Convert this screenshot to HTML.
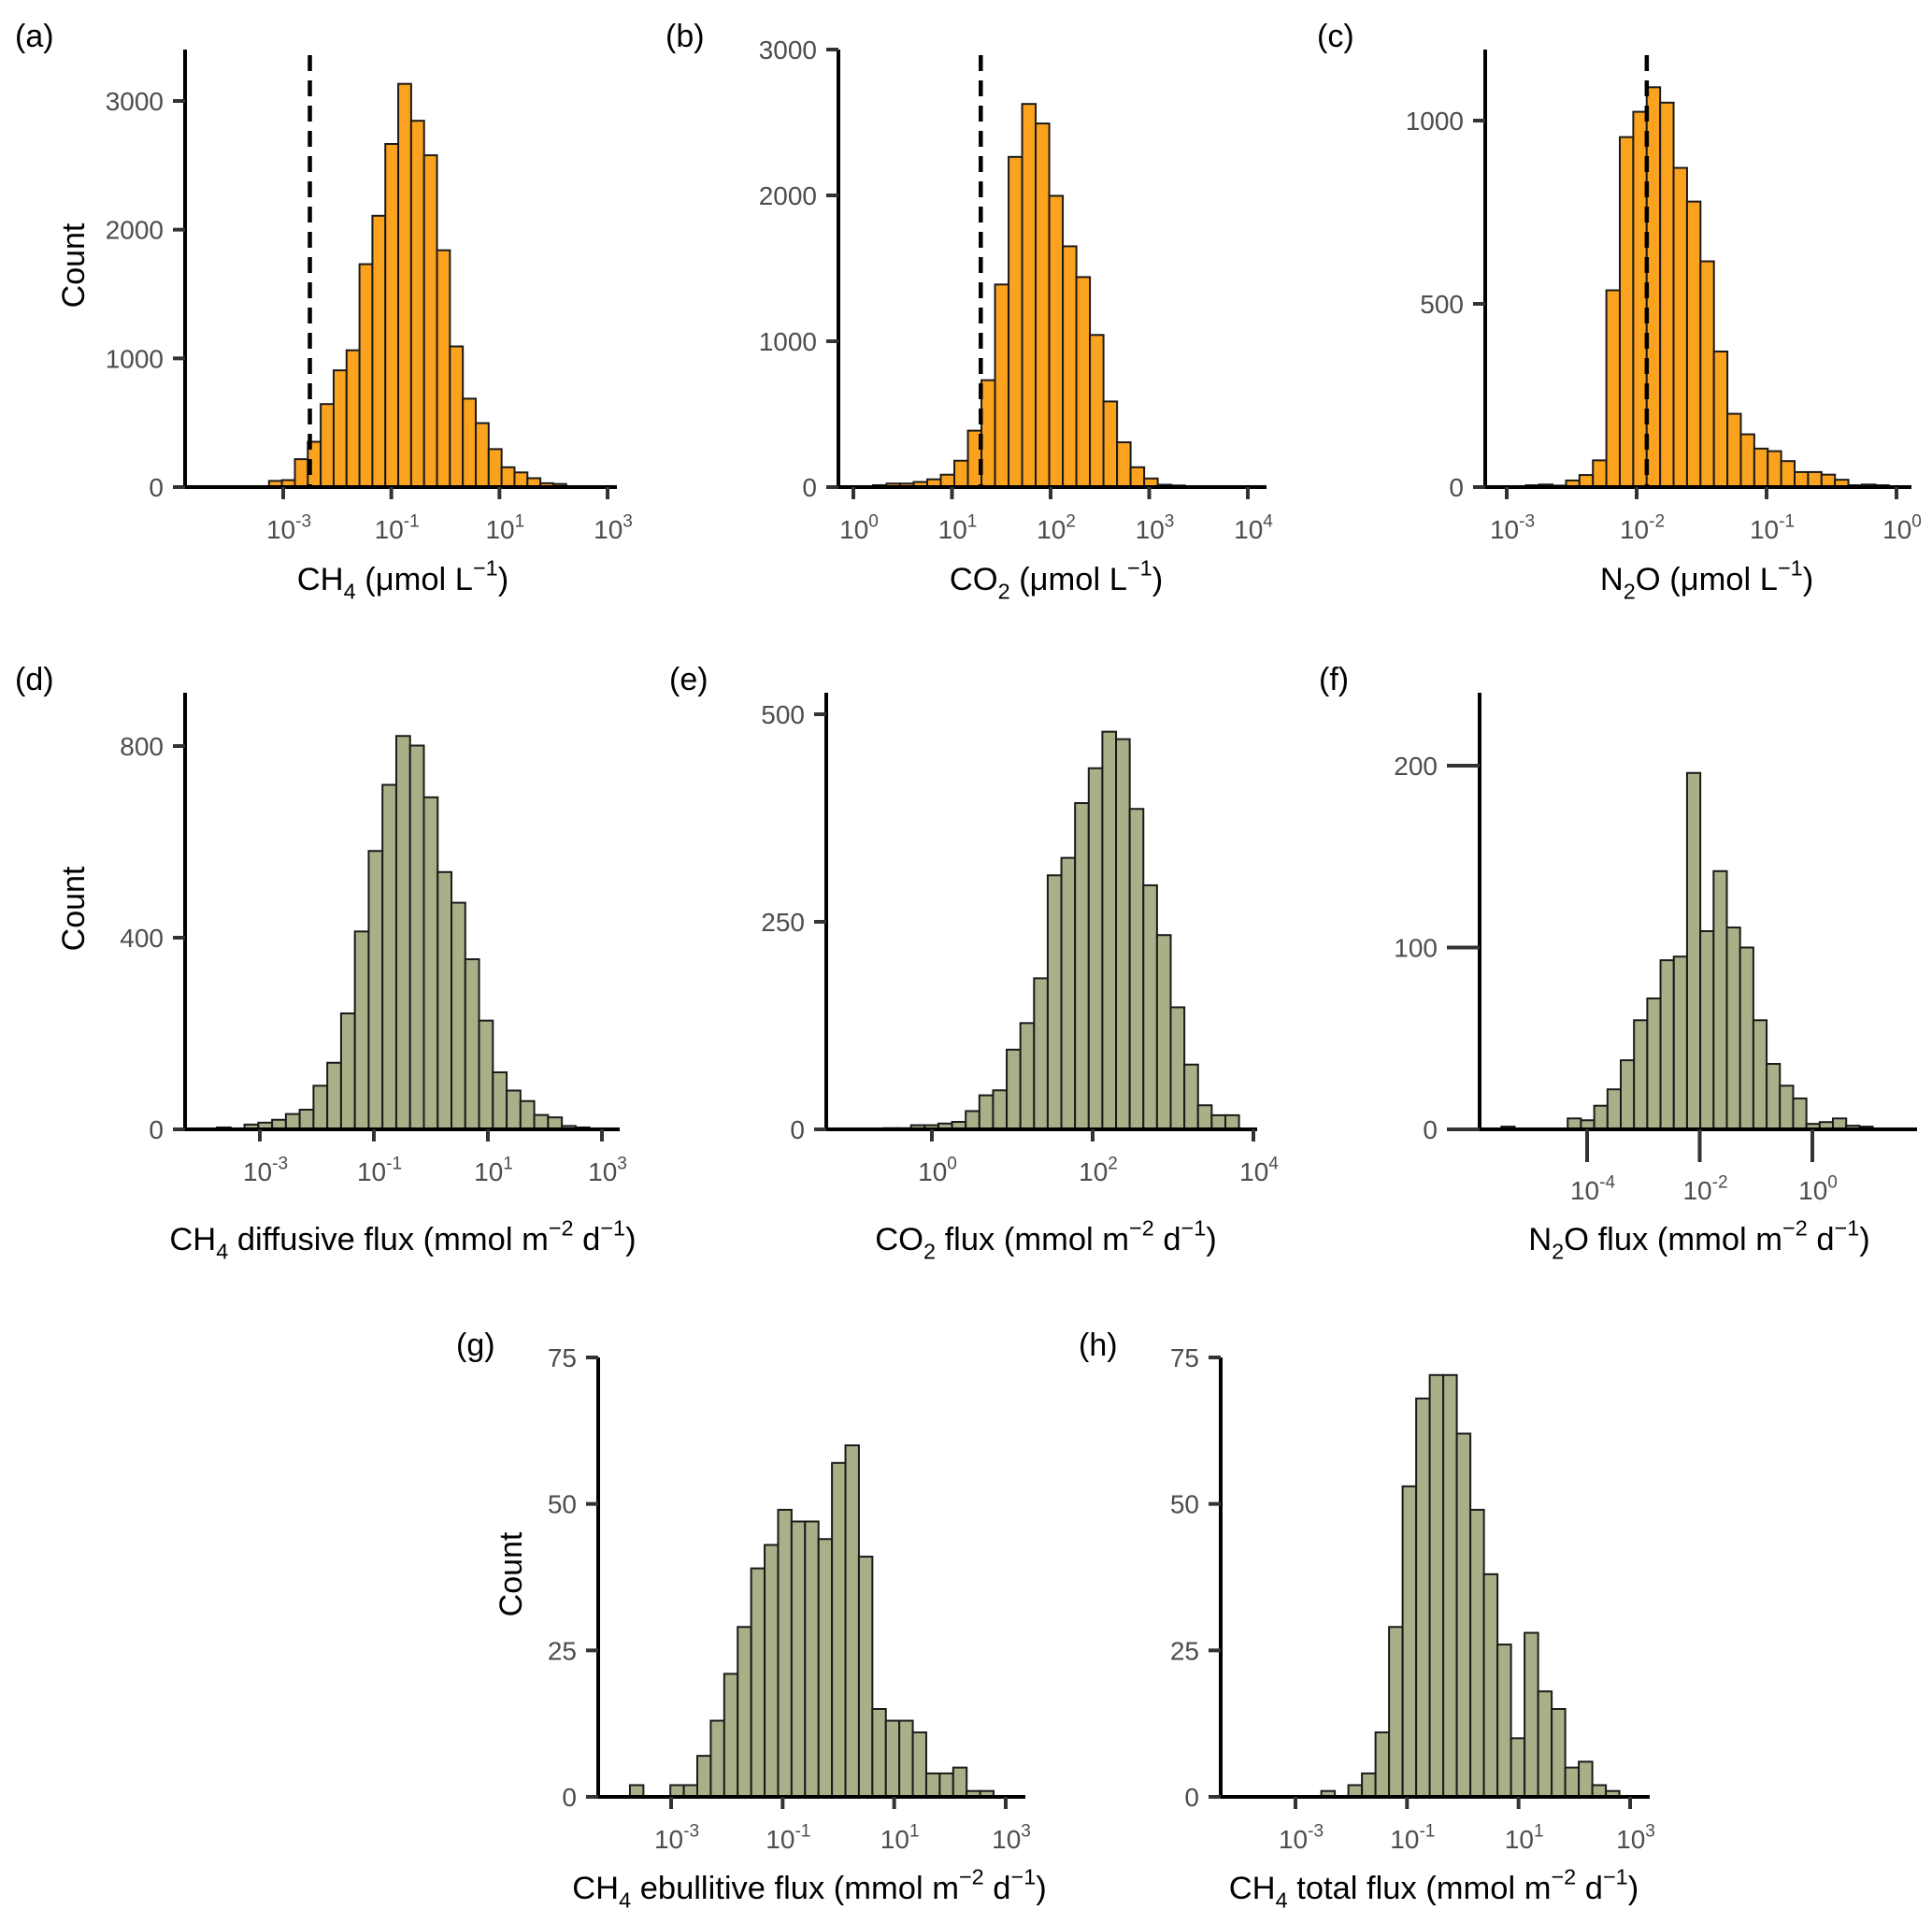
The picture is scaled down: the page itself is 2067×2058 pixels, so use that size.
<!DOCTYPE html>
<html><head><meta charset="utf-8"><style>
html,body{margin:0;padding:0;background:#fff;}
svg{display:block;font-family:"Liberation Sans",Arial,sans-serif;}
</style></head><body>
<svg id="fig" width="2067" height="2058" viewBox="0 0 2067 2058" xmlns="http://www.w3.org/2000/svg"></svg>
<script>
// ---- data (counts per log-bin) ----
const countsA = [48,54,217,352,645,907,1063,1732,2108,2666,3133,2846,2578,1840,1093,687,497,295,154,114,69,30,24];
const countsB = [13,24,24,35,53,85,181,387,733,1389,2264,2627,2493,1997,1651,1440,1043,587,307,136,59,16,11];
const countsC = [5,7,4,18,33,73,537,955,1024,1091,1049,871,779,616,370,200,144,105,98,71,41,41,34,20,5,7,5];
const countsD = [4,2,10,14,20,32,41,91,139,242,413,581,719,821,801,693,537,473,355,227,119,81,59,30,25,7,4,2];
const countsE = [1,1,1.4,1.4,5,5,7,9,22,41,47,96,128,182,306,327,393,435,479,470,386,294,234,147,78,29,17,17];
const countsF = [1.5,0.4,0,0,0.4,6,5,13,22,38,60,72,93,95,196,109,142,111,100,60,36,24,17,3,4,6,2,1.5,0,0.4];
const countsG = [2,0,0,2,2,7,13,21,29,39,43,49,47,47,44,57,60,41,15,13,13,11,4,4,5,1,1];
const countsH = [1,0,2,4,11,29,53,68,72,72,62,49,38,26,10,28,18,15,5,6,2,1];
// bin start (log10) and bin width (decades)
const binStartA = -3.262, binWidthA = 0.239;
const binStartB = 0.199,  binWidthB = 0.1375;
const binStartC = -2.854, binWidthC = 0.1035;
const binStartD = -3.753, binWidthD = 0.242;
const binStartE = -0.939, binWidthE = 0.17;
const binStartF = -5.522, binWidthF = 0.2355;
const binStartG = -3.738, binWidthG = 0.2415;
const binStartH = -2.537, binWidthH = 0.243;
// threshold lines (log10)
const dashA = -2.507, dashB = 1.292, dashC = -1.922;
// tick values
const yTicksA = [0,1000,2000,3000], yTicksB = [0,1000,2000,3000], yTicksC = [0,500,1000];
const yTicksD = [0,400,800], yTicksE = [0,250,500], yTicksF = [0,100,200];
const yTicksG = [0,25,50,75], yTicksH = [0,25,50,75];
const xTicksA = [-3,-1,1,3], xTicksB = [0,1,2,3,4], xTicksC = [-3,-2,-1,0];
const xTicksD = [-3,-1,1,3], xTicksE = [0,2,4], xTicksF = [-4,-2,0];
const xTicksG = [-3,-1,1,3], xTicksH = [-3,-1,1,3];

const NS = "http://www.w3.org/2000/svg";
const svg = document.getElementById('fig');
function mk(tag, attrs, parent){
  const e = document.createElementNS(NS, tag);
  for (const k in attrs) e.setAttribute(k, attrs[k]);
  (parent||svg).appendChild(e); return e;
}
function richText(parent, x, y, parts, size, anchor, fill, name){
  const t = mk('text', {x:x, y:y, 'font-size':size, 'text-anchor':anchor, fill:fill}, parent);
  
  
  parts.forEach(p => {
    const s = document.createElementNS(NS, 'tspan');
    if (p.sup) { s.setAttribute('font-size', size*0.68); s.setAttribute('dy', -size*0.45); }
    else if (p.sub) { s.setAttribute('font-size', size*0.68); s.setAttribute('dy', size*0.28); }
    else if (p.reset) { s.setAttribute('dy', p.reset*size); }
    s.textContent = p.t; t.appendChild(s);
  });
  return t;
}

const panels = [
 {id:'a', counts:countsA, b0:binStartA, bw:binWidthA, dash:dashA, fill:'#FBA31F', ax:198, right:660, top:53, base:521, l1:-3, p1:303, l2:3, p2:650, ymax:3000, ymaxPx:108, yt:yTicksA, xt:xTicksA, lab:[16,50], cnt:[79,284], title:[431,631, [{t:'CH'},{t:'4',sub:1},{t:' (μmol L',reset:-0.28},{t:'−1',sup:1},{t:')',reset:0.45}]], tl:13, lo:55},
 {id:'b', counts:countsB, b0:binStartB, bw:binWidthB, dash:dashB, fill:'#FBA31F', ax:897, right:1355, top:53, base:521, l1:0, p1:913, l2:4, p2:1335, ymax:3000, ymaxPx:53, yt:yTicksB, xt:xTicksB, lab:[712,50], title:[1130,631, [{t:'CO'},{t:'2',sub:1},{t:' (μmol L',reset:-0.28},{t:'−1',sup:1},{t:')',reset:0.45}]], tl:13, lo:55},
 {id:'c', counts:countsC, b0:binStartC, bw:binWidthC, dash:dashC, fill:'#FBA31F', ax:1589, right:2045, top:53, base:521, l1:-3, p1:1612, l2:0, p2:2029, ymax:1000, ymaxPx:129, yt:yTicksC, xt:xTicksC, lab:[1409,50], title:[1826,631, [{t:'N'},{t:'2',sub:1},{t:'O (μmol L',reset:-0.28},{t:'−1',sup:1},{t:')',reset:0.45}]], tl:13, lo:55},
 {id:'d', counts:countsD, b0:binStartD, bw:binWidthD, fill:'#A8B088', ax:198, right:663, top:741, base:1208, l1:-3, p1:278, l2:3, p2:644, ymax:800, ymaxPx:798, yt:yTicksD, xt:xTicksD, lab:[16,738], cnt:[79,972], title:[431,1337, [{t:'CH'},{t:'4',sub:1},{t:' diffusive flux (mmol m',reset:-0.28},{t:'−2',sup:1},{t:' d',reset:0.45},{t:'−1',sup:1},{t:')',reset:0.45}]], tl:13, lo:55},
 {id:'e', counts:countsE, b0:binStartE, bw:binWidthE, fill:'#A8B088', ax:884, right:1345, top:741, base:1208, l1:0, p1:997, l2:4, p2:1341, ymax:500, ymaxPx:764, yt:yTicksE, xt:xTicksE, lab:[716,738], title:[1119,1337, [{t:'CO'},{t:'2',sub:1},{t:' flux (mmol m',reset:-0.28},{t:'−2',sup:1},{t:' d',reset:0.45},{t:'−1',sup:1},{t:')',reset:0.45}]], tl:13, lo:55},
 {id:'f', counts:countsF, b0:binStartF, bw:binWidthF, fill:'#A8B088', ax:1583, right:2051, top:741, base:1208, l1:-4, p1:1698, l2:0, p2:1939, ymax:200, ymaxPx:819, yt:yTicksF, xt:xTicksF, lab:[1411,738], title:[1818,1337, [{t:'N'},{t:'2',sub:1},{t:'O flux (mmol m',reset:-0.28},{t:'−2',sup:1},{t:' d',reset:0.45},{t:'−1',sup:1},{t:')',reset:0.45}]], tl:35, lo:75},
 {id:'g', counts:countsG, b0:binStartG, bw:binWidthG, fill:'#A8B088', ax:640, right:1097, top:1452, base:1922, l1:-3, p1:718, l2:3, p2:1076, ymax:75, ymaxPx:1452, yt:yTicksG, xt:xTicksG, lab:[488,1450], cnt:[547,1684], title:[866,2031, [{t:'CH'},{t:'4',sub:1},{t:' ebullitive flux (mmol m',reset:-0.28},{t:'−2',sup:1},{t:' d',reset:0.45},{t:'−1',sup:1},{t:')',reset:0.45}]], tl:13, lo:55},
 {id:'h', counts:countsH, b0:binStartH, bw:binWidthH, fill:'#A8B088', ax:1306, right:1765, top:1452, base:1922, l1:-3, p1:1386, l2:3, p2:1744, ymax:75, ymaxPx:1452, yt:yTicksH, xt:xTicksH, lab:[1154,1450], title:[1534,2031, [{t:'CH'},{t:'4',sub:1},{t:' total flux (mmol m',reset:-0.28},{t:'−2',sup:1},{t:' d',reset:0.45},{t:'−1',sup:1},{t:')',reset:0.45}]], tl:13, lo:55}
];

panels.forEach(P => {
  const g = mk('g', {});
  
  
  const ppd = (P.p2 - P.p1) / (P.l2 - P.l1);
  const xs = l => P.p1 + (l - P.l1) * ppd;
  const ppu = (P.base - P.ymaxPx) / P.ymax;
  const ys = v => P.base - v * ppu;
  P.counts.forEach((c, i) => {
    if (c <= 0) return;
    const x0 = xs(P.b0 + i * P.bw), x1 = xs(P.b0 + (i + 1) * P.bw);
    const r = mk('rect', {x:x0, y:ys(c), width:x1 - x0, height:P.base - ys(c), fill:P.fill, stroke:'#1a1a1a', 'stroke-width':2}, g);
    
    
  });
  if (P.dash !== undefined) {
    const d = mk('line', {x1:xs(P.dash), x2:xs(P.dash), y1:59, y2:P.base, stroke:'#000', 'stroke-width':4.5, 'stroke-dasharray':'17 10'}, g);
    
    
  }
  const ya = mk('line', {x1:P.ax, x2:P.ax, y1:P.top, y2:P.base + 2, stroke:'#000', 'stroke-width':4}, g);
  
  
  const xa = mk('line', {x1:P.ax - 2, x2:P.right, y1:P.base, y2:P.base, stroke:'#000', 'stroke-width':4}, g);
  
  
  P.yt.forEach(v => {
    const t = mk('line', {x1:P.ax - P.tl, x2:P.ax, y1:ys(v), y2:ys(v), stroke:'#333', 'stroke-width':4}, g);
    
    
    const tx = mk('text', {x:P.ax - P.tl - 10, y:ys(v) + 10, 'font-size':28, 'text-anchor':'end', fill:'#4d4d4d'}, g);
    
    
    tx.textContent = String(v);
  });
  P.xt.forEach(l => {
    const t = mk('line', {x1:xs(l), x2:xs(l), y1:P.base, y2:P.base + P.tl, stroke:'#333', 'stroke-width':4}, g);
    
    
    richText(g, xs(l) + 6, P.base + P.lo, [{t:'10'},{t:String(l),sup:1}], 28, 'middle', '#4d4d4d', 'x-tick-label-' + P.id);
  });
  const lb = mk('text', {x:P.lab[0], y:P.lab[1], 'font-size':34, fill:'#000'}, g);
  
  
  lb.textContent = '(' + P.id + ')';
  if (P.cnt) {
    const yt = mk('text', {x:0, y:0, 'font-size':34, 'text-anchor':'middle', fill:'#000', transform:'translate(' + (P.cnt[0] + 11) + ',' + P.cnt[1] + ') rotate(-90)'}, g);
    
    
    yt.textContent = 'Count';
  }
  richText(g, P.title[0], P.title[1], P.title[2], 34.5, 'middle', '#000', 'x-axis-title-' + P.id);
});
</script>
</body></html>
